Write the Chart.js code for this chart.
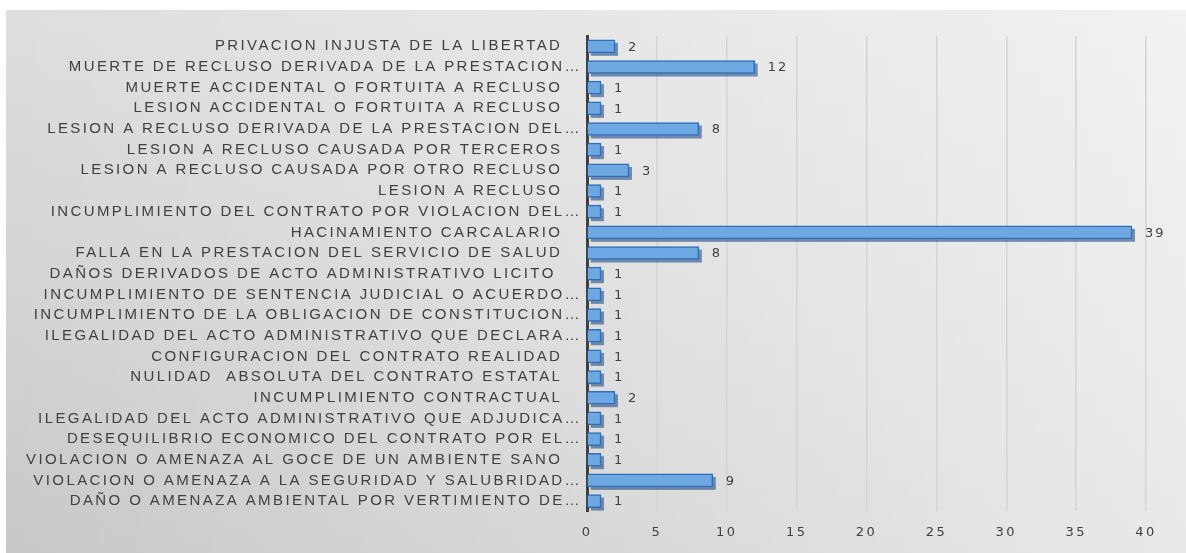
<!DOCTYPE html>
<html>
<head>
<meta charset="utf-8">
<script src="https://cdn.jsdelivr.net/npm/chart.js@4/dist/chart.umd.min.js"></script>
<style>
html,body{margin:0;padding:0;background:#fff;}
#panel{position:absolute;left:6px;top:10px;width:1180px;height:543px;
background:linear-gradient(to bottom,#dedede 0%,#d2d2d2 60%,#c8c8c8 100%);}
#panel:before{content:"";position:absolute;inset:0;background:linear-gradient(to right,rgba(255,255,255,0) 0%,rgba(255,255,255,0.35) 60%,rgba(255,255,255,0.6) 100%);}
#c{position:absolute;left:0;top:0;}
</style>
</head>
<body>
<div id="panel"><canvas id="c" width="1180" height="543"></canvas></div>
<script>
const categories = [
  "PRIVACION INJUSTA DE LA LIBERTAD   ",
  "MUERTE DE RECLUSO DERIVADA DE LA PRESTACION…",
  "MUERTE ACCIDENTAL O FORTUITA A RECLUSO   ",
  "LESION ACCIDENTAL O FORTUITA A RECLUSO   ",
  "LESION A RECLUSO DERIVADA DE LA PRESTACION DEL…",
  "LESION A RECLUSO CAUSADA POR TERCEROS   ",
  "LESION A RECLUSO CAUSADA POR OTRO RECLUSO   ",
  "LESION A RECLUSO   ",
  "INCUMPLIMIENTO DEL CONTRATO POR VIOLACION DEL…",
  "HACINAMIENTO CARCALARIO   ",
  "FALLA EN LA PRESTACION DEL SERVICIO DE SALUD   ",
  "DAÑOS DERIVADOS DE ACTO ADMINISTRATIVO LICITO    ",
  "INCUMPLIMIENTO DE SENTENCIA JUDICIAL O ACUERDO…",
  "INCUMPLIMIENTO DE LA OBLIGACION DE CONSTITUCION…",
  "ILEGALIDAD DEL ACTO ADMINISTRATIVO QUE DECLARA…",
  "CONFIGURACION DEL CONTRATO REALIDAD   ",
  "NULIDAD  ABSOLUTA DEL CONTRATO ESTATAL   ",
  "INCUMPLIMIENTO CONTRACTUAL   ",
  "ILEGALIDAD DEL ACTO ADMINISTRATIVO QUE ADJUDICA…",
  "DESEQUILIBRIO ECONOMICO DEL CONTRATO POR EL…",
  "VIOLACION O AMENAZA AL GOCE DE UN AMBIENTE SANO   ",
  "VIOLACION O AMENAZA A LA SEGURIDAD Y SALUBRIDAD…",
  "DAÑO O AMENAZA AMBIENTAL POR VERTIMIENTO DE…"
];
const values = [2,12,1,1,8,1,3,1,1,39,8,1,1,1,1,1,1,2,1,1,1,9,1];
const xTicks = [0,5,10,15,20,25,30,35,40];

const depthPlugin = {
  id:'depth',
  beforeDraw(chart){
    chart.ctx.letterSpacing = '2.4px';
  },
  beforeDatasetsDraw(chart){
    const ctx = chart.ctx;
    const meta = chart.getDatasetMeta(0);
    ctx.save();
    meta.data.forEach(b=>{
      const h = b.height;
      const x0 = b.base, x1 = b.x, y0 = b.y - h/2;
      ctx.fillStyle = 'rgba(35,75,135,0.6)';
      ctx.fillRect(x0+3, y0+3, x1-x0, h);
    });
    ctx.restore();
  },
  afterDatasetsDraw(chart){
    const ctx = chart.ctx;
    const meta = chart.getDatasetMeta(0);
    ctx.save();
    ctx.letterSpacing = '2px';
    ctx.font = '13px "DejaVu Sans"';
    ctx.fillStyle = '#404040';
    ctx.textBaseline = 'middle';
    ctx.textAlign = 'left';
    meta.data.forEach((b,i)=>{
      ctx.fillText(String(values[i]), b.x + 13, b.y + 1);
    });
    ctx.restore();
  }
};

const ctx = document.getElementById('c').getContext('2d');
new Chart(ctx,{
  type:'bar',
  data:{labels:categories,datasets:[{
    data:values,
    backgroundColor:'#6ea8e2',
    borderColor:'#2f6fb8',
    borderWidth:1.5,
    barThickness:13
  }]},
  options:{
    indexAxis:'y',
    responsive:false,
    animation:false,
    devicePixelRatio:1,
    layout:{padding:{left:0,right:40,top:26,bottom:0}},
    plugins:{legend:{display:false},tooltip:{enabled:false}},
    scales:{
      x:{
        min:0,max:40,
        afterBuildTicks(ax){ax.ticks = xTicks.map(v=>({value:v}));},
        afterFit(ax){ax.height = 41.6; ax.paddingLeft = 0; ax.paddingRight = 0;},
        grid:{color:'#d4d4d4',lineWidth:1.5,drawTicks:false},
        border:{display:false},
        ticks:{color:'#404040',font:{family:'DejaVu Sans',size:13},padding:13}
      },
      y:{
        afterFit(ax){ax.width = 581; ax.paddingTop = 0; ax.paddingBottom = 0;},
        grid:{display:false,drawTicks:false},
        border:{display:true,color:'#404040',width:3},
        ticks:{color:'#404040',font:{family:'Liberation Sans',size:15},padding:5,autoSkip:false}
      }
    }
  },
  plugins:[depthPlugin]
});
</script>
</body>
</html>
